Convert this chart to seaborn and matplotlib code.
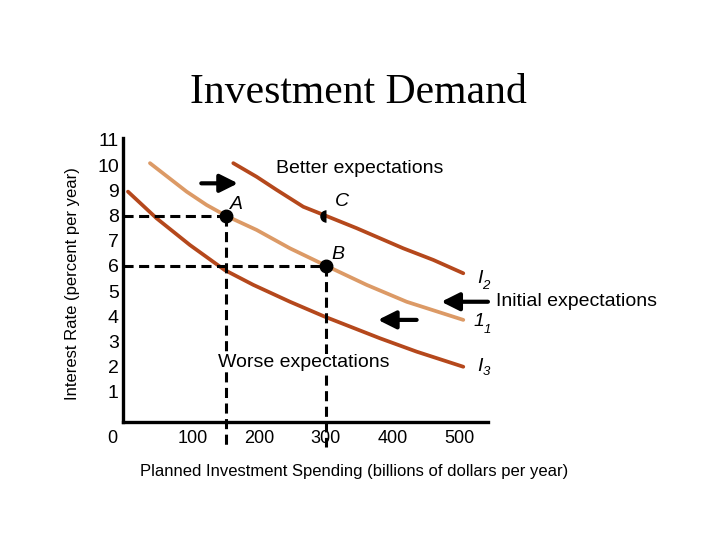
import numpy as np
import pandas as pd
import matplotlib
matplotlib.use("Agg")
import matplotlib.pyplot as plt
import matplotlib.transforms as mtrans
import seaborn as sns

# ---- data ----
i2_x = [161, 196, 226, 266, 301, 346, 416, 461, 506]
i2_y = [10.08, 9.54, 9.02, 8.35, 7.98, 7.50, 6.70, 6.24, 5.71]

i1_x = [36, 91, 121, 151, 196, 246, 301, 361, 421, 506]
i1_y = [10.08, 8.95, 8.42, 7.98, 7.43, 6.70, 6.00, 5.25, 4.58, 3.86]

i3_x = [3, 46, 96, 148, 191, 246, 298, 381, 436, 506]
i3_y = [8.95, 7.89, 6.83, 5.84, 5.25, 4.58, 3.99, 3.13, 2.60, 2.00]

points_name = ["A", "B", "C"]
points_x = [150, 300, 300]
points_y = [8, 6, 8]

curve_main = ["I", "1", "I"]
curve_sub = ["2", "1", "3"]

x_ticks = [0, 100, 200, 300, 400, 500]
x_ticklabels = ["0", "100", "200", "300", "400", "500"]
y_ticks = [1, 2, 3, 4, 5, 6, 7, 8, 9, 10, 11]
y_ticklabels = ["1", "2", "3", "4", "5", "6", "7", "8", "9", "10", "11"]

title = "Investment Demand"
xlabel = "Planned Investment Spending (billions of dollars per year)"
ylabel = "Interest Rate (percent per year)"

# ---- style ----
sns.set_theme(style="white")
plt.rcParams["font.family"] = ["Liberation Sans", "DejaVu Sans"]
for k in ["text.color", "axes.labelcolor", "xtick.color", "ytick.color", "axes.edgecolor"]:
    plt.rcParams[k] = "black"

DARK = "#B5481C"
LIGHT = "#DC9A66"

fig = plt.figure(figsize=(7.2, 5.4), dpi=100)
ax = fig.add_axes([0.1708, 0.2191, 0.5069, 0.5254])

df = pd.concat([
    pd.DataFrame({"x": i2_x, "y": i2_y, "curve": "I2"}),
    pd.DataFrame({"x": i1_x, "y": i1_y, "curve": "I1"}),
    pd.DataFrame({"x": i3_x, "y": i3_y, "curve": "I3"}),
])
sns.lineplot(data=df, x="x", y="y", hue="curve", units="curve", estimator=None,
             sort=False, palette={"I2": DARK, "I1": LIGHT, "I3": DARK},
             linewidth=2.7, legend=False, ax=ax)

# dashed guides
dash_kw = dict(color="black", lw=2.2, dashes=(3.3, 1.8), clip_on=False, zorder=3)
ax.plot([-4.5, points_x[0]], [points_y[0], points_y[0]], **dash_kw)
ax.plot([-4.5, points_x[1]], [points_y[1], points_y[1]], **dash_kw)
ax.plot([points_x[0], points_x[0]], [points_y[0], -1.17], **dash_kw)
ax.plot([points_x[1], points_x[1]], [points_y[1], -1.17], **dash_kw)

# points
ax.plot(points_x[:2], points_y[:2], "o", color="black", ms=9, zorder=5)
ax.plot(points_x[2], points_y[2], "o", color="black", ms=9, fillstyle="left",
        markeredgewidth=0, zorder=5)
label_off = {"A": (16, 0.42), "B": (18, 0.44), "C": (24, 0.54)}
for n, px, py in zip(points_name, points_x, points_y):
    dx, dy = label_off[n]
    ax.text(px + dx, py + dy, n, fontsize=14, style="italic", ha="center", va="center")

# curve labels (main glyph + subscript)
main_pos = [(531, 5.51), (529, 3.79), (531.5, 2.01)]
sub_pos = [(539, 5.21), (542, 3.46), (541, 1.81)]
for m, s, (mx, my), (sx, sy) in zip(curve_main, curve_sub, main_pos, sub_pos):
    ax.text(mx, my, m, fontsize=14, style="italic", ha="center", va="center")
    ax.text(sx, sy, s, fontsize=9.5, style="italic", ha="center", va="center")

# annotations
ax.text(351, 9.85, "Better expectations", fontsize=14, ha="center", va="center")
ax.text(267, 2.15, "Worse expectations", fontsize=14, ha="center", va="center",
        zorder=6, bbox=dict(facecolor="white", edgecolor="none", pad=0.5))
ax.text(555, 4.58, "Initial expectations", fontsize=14, ha="left", va="center")

arrow_kw = dict(arrowstyle="-|>,head_length=0.9,head_width=0.45", color="black",
                lw=3, shrinkA=0, shrinkB=0, mutation_scale=12)
ax.annotate("", xy=(168, 9.28), xytext=(113, 9.28), arrowprops=arrow_kw,
            annotation_clip=False)
ax.annotate("", xy=(378, 3.86), xytext=(436, 3.86), arrowprops=arrow_kw,
            annotation_clip=False)
ax.annotate("", xy=(473, 4.58), xytext=(543, 4.58), arrowprops=arrow_kw,
            annotation_clip=False, zorder=6)

# axes
ax.set_xlim(-4.5, 543)
ax.set_ylim(-0.18, 11.08)
sns.despine(ax=ax, top=True, right=True)
for s in ["left", "bottom"]:
    ax.spines[s].set_linewidth(2.4)
    ax.spines[s].set_color("black")
ax.set_xticks(x_ticks)
ax.set_xticklabels(x_ticklabels, fontsize=13)
ax.set_yticks(y_ticks)
ax.set_yticklabels(y_ticklabels, fontsize=14)
ax.tick_params(axis="both", length=0, colors="black")
ax.tick_params(axis="x", pad=6)
ax.tick_params(axis="y", pad=3)
lbl0 = ax.get_xticklabels()[0]
lbl0.set_transform(lbl0.get_transform() + mtrans.ScaledTranslation(-14 / 100, 0, fig.dpi_scale_trans))
ax.set_xlabel("")
ax.set_ylabel("")

fig.text(358 / 720, 1 - 93 / 540, title, fontsize=30, color="black",
         family=["Liberation Serif", "DejaVu Serif"], ha="center", va="center")
fig.text(354 / 720, 1 - 471.7 / 540, xlabel, fontsize=12, ha="center", va="center")
fig.text(72.5 / 720, 1 - 284 / 540, ylabel, fontsize=12, rotation=90, ha="center", va="center")

fig.savefig("out.png", dpi=100)
